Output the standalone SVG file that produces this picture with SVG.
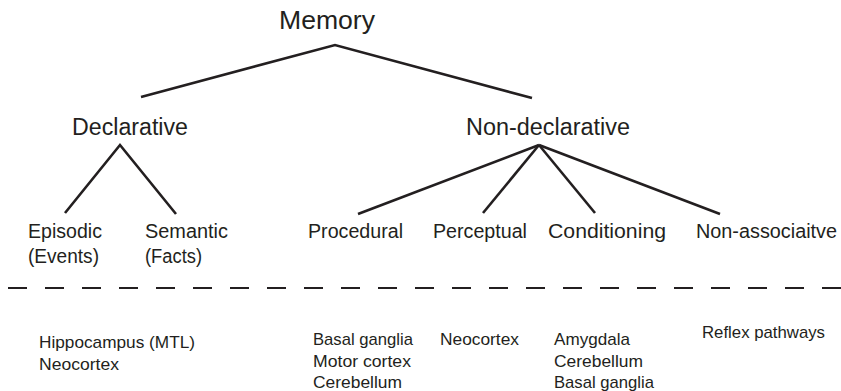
<svg xmlns="http://www.w3.org/2000/svg" width="841" height="391" viewBox="0 0 841 391">
<style>
text { font-family: "Liberation Sans", Arial, sans-serif; fill: #231f20; }
.l1 { font-size: 25px; }
.l2 { font-size: 23px; }
.l3 { font-size: 20px; }
.l4 { font-size: 17px; }
.edge { stroke: #231f20; stroke-width: 2.6; fill: none; stroke-linecap: butt; }
.dash { stroke: #231f20; stroke-width: 1.8; stroke-dasharray: 19 18; fill: none; }
</style>
<rect width="841" height="391" fill="#ffffff"/>
<g id="connectors">
  <polyline class="edge" points="141,97 335,45 532,98"/>
  <polyline class="edge" points="65,213 120,145 176,214"/>
  <line class="edge" x1="358" y1="214" x2="539" y2="145"/>
  <line class="edge" x1="483" y1="213" x2="539" y2="145"/>
  <line class="edge" x1="595" y1="213" x2="539" y2="145"/>
  <line class="edge" x1="720" y1="214" x2="539" y2="145"/>
</g>
<line id="divider" class="dash" x1="8" y1="288" x2="841" y2="288"/>
<g id="memory"><text class="l1" x="279" y="29" textLength="96" lengthAdjust="spacingAndGlyphs">Memory</text></g>
<g id="declarative"><text class="l2" x="72" y="135" textLength="116" lengthAdjust="spacingAndGlyphs">Declarative</text></g>
<g id="nondeclarative"><text class="l2" x="466" y="135" textLength="164" lengthAdjust="spacingAndGlyphs">Non-declarative</text></g>
<g id="episodic">
  <text class="l3" x="28" y="238" textLength="74" lengthAdjust="spacingAndGlyphs">Episodic</text>
  <text class="l3" x="28" y="263" textLength="71" lengthAdjust="spacingAndGlyphs">(Events)</text>
</g>
<g id="semantic">
  <text class="l3" x="145" y="238" textLength="83" lengthAdjust="spacingAndGlyphs">Semantic</text>
  <text class="l3" x="145" y="263" textLength="57" lengthAdjust="spacingAndGlyphs">(Facts)</text>
</g>
<g id="procedural"><text class="l3" x="308" y="238" textLength="95" lengthAdjust="spacingAndGlyphs">Procedural</text></g>
<g id="perceptual"><text class="l3" x="433" y="238" textLength="94" lengthAdjust="spacingAndGlyphs">Perceptual</text></g>
<g id="conditioning"><text class="l3" x="548" y="238" textLength="118" lengthAdjust="spacingAndGlyphs">Conditioning</text></g>
<g id="nonassociative"><text class="l3" x="696" y="238" textLength="141" lengthAdjust="spacingAndGlyphs">Non-associaitve</text></g>
<g id="declarative-areas">
  <text class="l4" x="39" y="348" textLength="156" lengthAdjust="spacingAndGlyphs">Hippocampus (MTL)</text>
  <text class="l4" x="39" y="370" textLength="80" lengthAdjust="spacingAndGlyphs">Neocortex</text>
</g>
<g id="procedural-areas">
  <text class="l4" x="313" y="345" textLength="100" lengthAdjust="spacingAndGlyphs">Basal ganglia</text>
  <text class="l4" x="313" y="367" textLength="98" lengthAdjust="spacingAndGlyphs">Motor cortex</text>
  <text class="l4" x="313" y="388" textLength="89" lengthAdjust="spacingAndGlyphs">Cerebellum</text>
</g>
<g id="perceptual-areas">
  <text class="l4" x="440" y="345" textLength="79" lengthAdjust="spacingAndGlyphs">Neocortex</text>
</g>
<g id="conditioning-areas">
  <text class="l4" x="554" y="345" textLength="76" lengthAdjust="spacingAndGlyphs">Amygdala</text>
  <text class="l4" x="554" y="367" textLength="89" lengthAdjust="spacingAndGlyphs">Cerebellum</text>
  <text class="l4" x="554" y="388" textLength="100" lengthAdjust="spacingAndGlyphs">Basal ganglia</text>
</g>
<g id="nonassociative-areas">
  <text class="l4" x="702" y="338" textLength="123" lengthAdjust="spacingAndGlyphs">Reflex pathways</text>
</g>
</svg>
